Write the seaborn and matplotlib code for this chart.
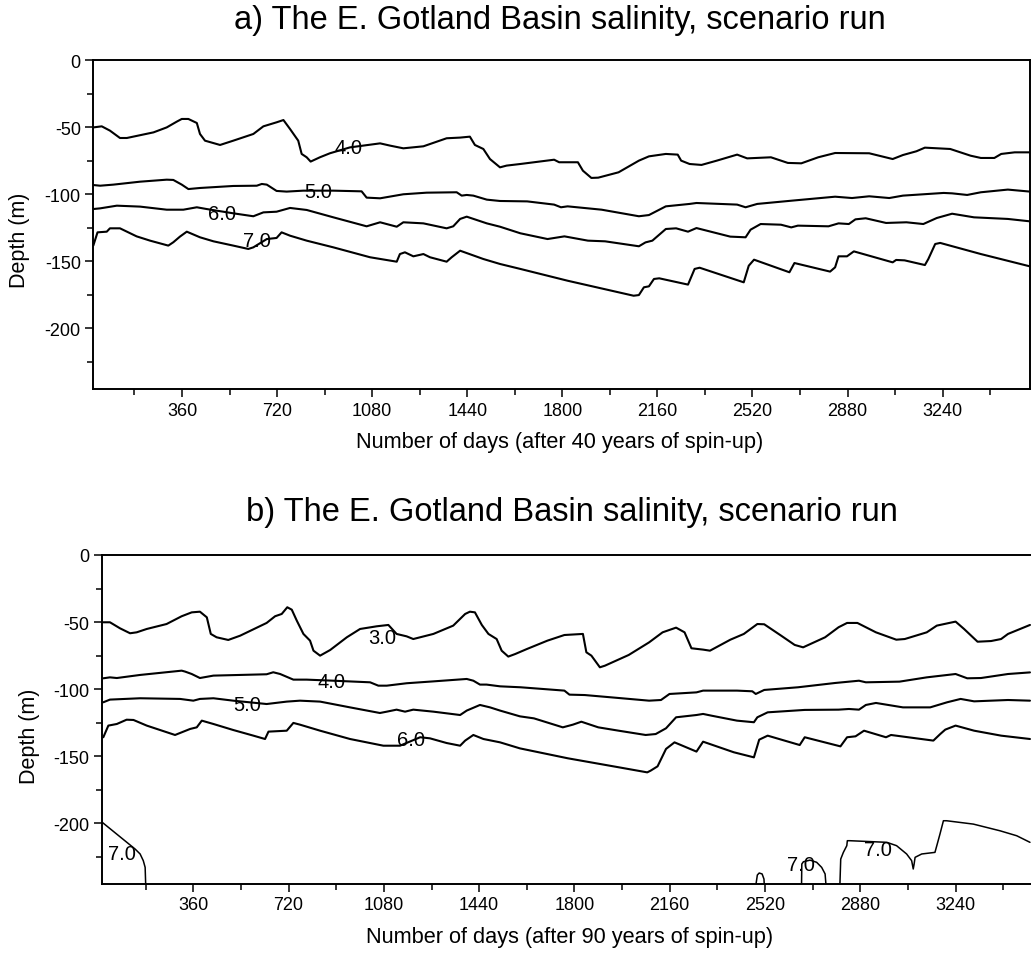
import matplotlib
matplotlib.use("Agg")
import matplotlib.pyplot as plt
from matplotlib.ticker import FixedLocator
import pandas as pd
import seaborn as sns

# ---------------------------------------------------------------------------
# Isohaline depths (m) against model day, panel a (after 40 years of spin-up)
# ---------------------------------------------------------------------------
a_s4_day = [24, 56, 87, 125, 151, 252, 302, 340, 359, 384, 416, 428, 447, 504, 554,
            630, 668, 718, 744, 769, 800, 813, 832, 847, 882, 920, 996, 1110, 1148, 1198,
            1274, 1362, 1413, 1450, 1469, 1501, 1526, 1564, 1589, 1641, 1769, 1788, 1859,
            1878, 1910, 1936, 2013, 2090, 2128, 2192, 2237, 2250, 2282, 2327, 2385, 2462,
            2500, 2590, 2654, 2705, 2769, 2833, 2962, 3051, 3090, 3141, 3173, 3269, 3346,
            3385, 3436, 3462, 3513, 3571]
a_s4_dep = [-50.3, -49.5, -52.7, -58.2, -58.2, -54.0, -50.3, -46.0, -44.0, -44.0, -47.0,
            -55.2, -60.2, -63.4, -60.2, -55.2, -49.5, -46.5, -44.8, -51.5, -60.2, -70.1,
            -72.6, -75.8, -72.6, -69.6, -65.2, -62.2, -63.9, -65.9, -64.4, -58.4, -57.9,
            -57.2, -63.4, -66.4, -73.9, -80.1, -78.8, -77.6, -74.4, -76.3, -76.3, -82.6,
            -88.0, -87.8, -83.8, -75.1, -71.9, -70.1, -70.6, -75.1, -77.6, -78.3, -75.1,
            -70.6, -73.4, -72.6, -76.8, -77.1, -72.6, -69.4, -69.6, -73.9, -70.9, -68.1,
            -65.4, -66.4, -71.4, -73.1, -73.1, -70.1, -68.9, -68.9]

a_s5_day = [24, 50, 100, 201, 302, 327, 359, 384, 428, 554, 643, 662, 681, 718, 756,
            819, 933, 1040, 1059, 1110, 1198, 1286, 1400, 1419, 1438, 1463, 1514, 1564,
            1667, 1769, 1795, 1820, 1949, 2090, 2128, 2192, 2282, 2308, 2462, 2494, 2538,
            2667, 2833, 2897, 2962, 3038, 3090, 3244, 3276, 3333, 3385, 3487, 3571]
a_s5_dep = [-93.3, -93.8, -93.0, -90.8, -89.3, -89.5, -93.0, -96.3, -95.5, -94.0, -93.8,
            -92.5, -93.0, -97.7, -98.2, -97.5, -97.5, -98.0, -102.7, -103.2, -100.2, -99.0,
            -98.7, -101.2, -100.7, -101.2, -104.2, -105.2, -105.5, -107.9, -109.9, -109.2,
            -111.7, -116.6, -115.7, -109.2, -107.4, -106.7, -107.9, -109.9, -107.4, -105.0,
            -102.0, -103.0, -101.7, -103.0, -101.2, -99.2, -99.5, -100.7, -98.7, -96.7,
            -98.2]

a_s6_day = [24, 50, 113, 201, 302, 365, 416, 453, 554, 630, 668, 718, 769, 832, 933,
            1059, 1110, 1173, 1198, 1274, 1362, 1387, 1413, 1438, 1514, 1564, 1641, 1744,
            1808, 1897, 1962, 2090, 2115, 2141, 2192, 2231, 2276, 2308, 2436, 2494, 2513,
            2551, 2628, 2667, 2692, 2808, 2846, 2885, 2910, 2949, 3026, 3103, 3167, 3218,
            3276, 3359, 3487, 3571]
a_s6_dep = [-111.2, -110.7, -108.7, -109.4, -111.7, -111.7, -109.9, -111.2, -114.4,
            -116.6, -113.7, -113.2, -110.4, -111.9, -117.4, -124.1, -121.1, -124.4, -121.1,
            -121.9, -125.6, -124.1, -118.6, -116.9, -121.9, -124.4, -129.3, -133.6, -131.6,
            -134.8, -135.3, -139.0, -136.1, -134.8, -126.1, -125.6, -128.1, -125.4, -131.8,
            -132.3, -126.6, -122.4, -122.9, -124.9, -123.6, -124.1, -121.9, -122.4, -118.9,
            -118.1, -121.6, -121.1, -122.4, -117.9, -114.7, -117.4, -118.6, -120.4]

a_s7_day = [24, 40, 75, 87, 125, 188, 239, 308, 327, 352, 378, 428, 479, 554, 611,
            630, 681, 718, 737, 769, 832, 933, 1072, 1173, 1185, 1204, 1236, 1274, 1299,
            1362, 1381, 1413, 1501, 1564, 1641, 1820, 2070, 2090, 2109, 2128, 2147, 2167,
            2276, 2301, 2320, 2487, 2506, 2526, 2660, 2679, 2814, 2833, 2846, 2878, 2904,
            3051, 3064, 3096, 3173, 3186, 3212, 3231, 3385, 3571]
a_s7_dep = [-138.5, -128.6, -128.1, -125.6, -125.6, -131.6, -134.8, -138.5, -136.0,
            -131.8, -128.1, -132.3, -135.3, -138.5, -141.0, -139.8, -133.6, -132.8, -128.6,
            -131.1, -134.8, -139.8, -147.2, -150.5, -144.8, -143.5, -146.5, -144.8, -147.2,
            -150.5, -147.2, -142.3, -148.5, -152.2, -155.9, -164.7, -175.9, -175.4, -169.6,
            -168.9, -163.4, -162.9, -167.6, -155.9, -155.0, -165.9, -153.5, -149.0, -158.4,
            -151.5, -157.9, -154.7, -146.5, -146.5, -142.8, -151.0, -149.2, -149.5, -153.0,
            -148.5, -137.3, -136.5, -144.8, -154.0]

# ---------------------------------------------------------------------------
# Panel b (after 90 years of spin-up)
# ---------------------------------------------------------------------------
b_s3_day = [20, 45, 83, 121, 146, 184, 259, 316, 354, 385, 411, 426, 448, 492, 537,
            637, 669, 694, 715, 732, 751, 776, 801, 814, 839, 877, 940, 990, 1053, 1097,
            1128, 1166, 1191, 1267, 1342, 1387, 1405, 1424, 1450, 1475, 1506, 1525, 1550,
            1576, 1621, 1698, 1762, 1832, 1845, 1864, 1896, 1915, 2005, 2082, 2133, 2184,
            2216, 2242, 2286, 2312, 2389, 2440, 2491, 2517, 2581, 2632, 2664, 2747, 2798,
            2830, 2869, 2939, 3016, 3048, 3131, 3169, 3240, 3272, 3323, 3374, 3412, 3438,
            3521]
b_s3_dep = [-50.2, -50.2, -54.7, -58.4, -57.7, -55.2, -51.5, -45.7, -42.8, -42.3, -46.5,
            -58.9, -61.4, -63.4, -60.2, -50.7, -45.7, -44.0, -39.0, -40.8, -49.0, -58.9,
            -63.9, -71.4, -75.1, -70.9, -61.4, -55.2, -53.2, -52.2, -58.9, -60.7, -62.7,
            -58.9, -52.7, -44.0, -42.3, -42.8, -52.2, -58.9, -62.7, -71.4, -75.8, -73.9,
            -70.1, -63.9, -59.7, -58.9, -72.6, -75.1, -83.8, -82.6, -74.6, -65.2, -57.7,
            -54.2, -57.7, -69.6, -70.6, -71.4, -63.2, -58.9, -51.5, -51.7, -60.2, -67.1,
            -68.9, -61.4, -53.9, -50.7, -50.7, -57.7, -63.2, -62.7, -57.7, -52.7, -49.7,
            -55.2, -64.7, -64.2, -62.7, -58.9, -52.2]

b_s4_day = [20, 45, 71, 159, 316, 329, 354, 385, 436, 537, 637, 662, 688, 738, 788,
            889, 1028, 1059, 1091, 1166, 1267, 1393, 1418, 1443, 1468, 1519, 1596, 1762,
            1781, 1839, 1967, 2082, 2127, 2159, 2261, 2286, 2414, 2472, 2485, 2517, 2645,
            2785, 2875, 2901, 3028, 3131, 3240, 3284, 3336, 3438, 3521]
b_s4_dep = [-92.0, -91.3, -91.8, -89.5, -86.3, -87.0, -88.8, -91.8, -90.0, -89.5, -89.0,
            -87.5, -88.8, -93.0, -93.0, -93.8, -95.0, -97.5, -97.5, -95.7, -94.3, -92.5,
            -93.8, -96.7, -96.7, -98.0, -98.7, -101.2, -104.2, -104.5, -106.7, -108.7,
            -108.2, -103.7, -102.5, -101.2, -101.2, -101.7, -103.7, -100.7, -98.7, -95.5,
            -93.8, -95.0, -94.5, -91.3, -88.8, -92.0, -91.8, -88.8, -87.6]

b_s5_day = [20, 45, 159, 310, 360, 385, 436, 511, 637, 713, 763, 839, 952, 1065, 1091,
            1128, 1160, 1191, 1267, 1368, 1393, 1443, 1481, 1519, 1594, 1647, 1756, 1794,
            1826, 1890, 1967, 2069, 2107, 2146, 2184, 2261, 2286, 2318, 2414, 2478, 2491,
            2530, 2670, 2798, 2837, 2875, 2901, 2939, 3041, 3144, 3208, 3259, 3310, 3438,
            3521]
b_s5_dep = [-109.9, -107.9, -106.9, -107.4, -108.7, -107.4, -106.9, -108.7, -111.2,
            -109.4, -108.7, -109.4, -113.7, -117.9, -116.9, -115.4, -116.9, -115.4, -116.9,
            -119.4, -116.1, -111.9, -113.7, -116.1, -120.4, -121.9, -128.6, -126.6, -124.4,
            -128.6, -131.1, -134.3, -133.6, -129.3, -121.1, -119.4, -118.6, -119.9, -123.6,
            -124.8, -121.1, -117.4, -115.6, -115.4, -114.9, -115.4, -111.9, -110.4, -113.7,
            -113.7, -109.9, -107.4, -109.2, -108.2, -108.7]

b_s6_day = [20, 39, 71, 108, 134, 184, 291, 348, 373, 392, 436, 511, 587, 631, 644,
            713, 738, 763, 839, 952, 1078, 1141, 1217, 1254, 1317, 1368, 1387, 1418, 1456,
            1519, 1594, 1775, 1967, 2075, 2088, 2114, 2146, 2178, 2261, 2286, 2402, 2478,
            2498, 2530, 2651, 2670, 2805, 2830, 2862, 2894, 2977, 2996, 3156, 3182, 3201,
            3240, 3310, 3412, 3521]
b_s6_dep = [-136.0, -127.3, -126.1, -122.9, -123.1, -127.3, -134.3, -129.8, -128.6,
            -123.6, -126.1, -130.6, -134.8, -137.3, -131.8, -131.1, -125.3, -126.6, -131.1,
            -137.3, -142.3, -142.3, -136.0, -136.8, -140.3, -142.3, -138.5, -134.3, -137.3,
            -139.8, -144.3, -151.7, -158.4, -162.2, -160.9, -157.7, -144.7, -139.8, -146.7,
            -139.3, -147.2, -151.0, -137.8, -134.8, -141.8, -136.0, -142.8, -136.0, -135.3,
            -131.1, -136.0, -134.3, -138.5, -133.6, -130.3, -127.3, -131.1, -134.8, -137.3]

# 7.0 isohaline: separate pockets of saline bottom water
b_s7a_day = [16, 140, 159, 171, 178, 180]
b_s7a_dep = [-199.5, -219.4, -223.1, -228.1, -233.1, -245.5]
b_s7b_day = [2486, 2491, 2498, 2509, 2516, 2517]
b_s7b_dep = [-245.5, -238.8, -237.3, -238.0, -241.8, -245.5]
b_s7c_day = [2658, 2659, 2665, 2690, 2715, 2734, 2747, 2750]
b_s7c_dep = [-245.5, -230.6, -228.9, -227.7, -229.3, -233.1, -238.0, -245.5]
b_s7d_day = [2803, 2806, 2816, 2829, 2831, 2841, 2980, 3017, 3055, 3074, 3080, 3083,
             3087, 3112, 3162, 3169, 3181, 3194, 3206, 3307, 3408, 3471, 3521]
b_s7d_dep = [-245.5, -226.9, -221.9, -216.9, -213.2, -213.2, -214.4, -216.9, -223.1,
             -228.1, -234.3, -231.0, -225.6, -223.1, -221.9, -216.9, -208.2, -198.3,
             -198.3, -200.8, -205.8, -209.5, -214.4]

# Contour labels: text, day, depth
a_labels = [("4.0", 990, -65.2), ("5.0", 874, -98.2), ("6.0", 510, -114.4),
            ("7.0", 643, -134.8)]
b_labels = [("3.0", 1074, -61.4), ("4.0", 883, -94.5), ("5.0", 562, -111.7),
            ("6.0", 1181, -137.8), ("7.0", 92, -223.1), ("7.0", 2657, -230.6),
            ("7.0", 2948, -219.4)]

day_ticks = [360, 720, 1080, 1440, 1800, 2160, 2520, 2880, 3240]
day_minor = [180, 540, 900, 1260, 1620, 1980, 2340, 2700, 3060, 3420]
depth_ticks = [0, -50, -100, -150, -200]
depth_minor = [-25, -75, -125, -175, -225]

title_a = "a) The E. Gotland Basin salinity, scenario run"
title_b = "b) The E. Gotland Basin salinity, scenario run"
xlabel_a = "Number of days (after 40 years of spin-up)"
xlabel_b = "Number of days (after 90 years of spin-up)"
ylabel = "Depth (m)"

# ---------------------------------------------------------------------------
sns.set_theme(style="ticks")
plt.rcParams["font.family"] = ["Liberation Sans", "DejaVu Sans"]
plt.rcParams["axes.unicode_minus"] = False
plt.rcParams["text.color"] = "black"
plt.rcParams["axes.labelcolor"] = "black"
plt.rcParams["xtick.color"] = "black"
plt.rcParams["ytick.color"] = "black"

W, H = 1031, 962
fig = plt.figure(figsize=(W / 100, H / 100), dpi=100)


def add_axes_px(left, top, width, height):
    return fig.add_axes([left / W, 1 - (top + height) / H, width / W, height / H])


def frame(lines):
    parts = [pd.DataFrame({"day": d, "depth": z, "line": name})
             for name, (d, z) in lines.items()]
    return pd.concat(parts, ignore_index=True)


ax_a = add_axes_px(93.3, 61, 936.7, 329)
ax_b = add_axes_px(102, 556, 936.7, 329)

df_a = frame({"4.0": (a_s4_day, a_s4_dep), "5.0": (a_s5_day, a_s5_dep),
              "6.0": (a_s6_day, a_s6_dep), "7.0": (a_s7_day, a_s7_dep)})
df_b = frame({"3.0": (b_s3_day, b_s3_dep), "4.0": (b_s4_day, b_s4_dep),
              "5.0": (b_s5_day, b_s5_dep), "6.0": (b_s6_day, b_s6_dep)})
df_b7 = frame({"7.0a": (b_s7a_day, b_s7a_dep), "7.0b": (b_s7b_day, b_s7b_dep),
               "7.0c": (b_s7c_day, b_s7c_dep), "7.0d": (b_s7d_day, b_s7d_dep)})

line_kw = dict(x="day", y="depth", units="line", estimator=None, sort=False,
               color="black", legend=False)
sns.lineplot(data=df_a, ax=ax_a, linewidth=1.5, **line_kw)
sns.lineplot(data=df_b, ax=ax_b, linewidth=1.5, **line_kw)
sns.lineplot(data=df_b7, ax=ax_b, linewidth=1.1, **line_kw)

for ax, labels in ((ax_a, a_labels), (ax_b, b_labels)):
    for text, d, z in labels:
        ax.text(d, z, text, ha="center", va="center", fontsize=14.5, color="black")

for ax, xlim in ((ax_a, (24, 3571)), (ax_b, (15, 3554))):
    ax.set_xlim(*xlim)
    ax.set_ylim(-245.5, 0)
    ax.xaxis.set_major_locator(FixedLocator(day_ticks))
    ax.xaxis.set_minor_locator(FixedLocator(day_minor))
    ax.yaxis.set_major_locator(FixedLocator(depth_ticks))
    ax.yaxis.set_minor_locator(FixedLocator(depth_minor))
    ax.tick_params(which="major", direction="out", length=6, width=1.1,
                   labelsize=13, pad=3, color="black", labelcolor="black")
    ax.tick_params(which="minor", direction="out", length=4.5, width=1.1, color="black")
    for sp in ax.spines.values():
        sp.set_linewidth(1.4)
        sp.set_color("black")
    ax.set_xlabel("")
    ax.set_ylabel("")
    ax.set_facecolor("white")

fig.text(560 / W, 1 - 20 / H, title_a, ha="center", va="center", fontsize=23.5)
fig.text(572 / W, 1 - 512 / H, title_b, ha="center", va="center", fontsize=23.5)
fig.text(560 / W, 1 - 443 / H, xlabel_a, ha="center", va="center", fontsize=15.7)
fig.text(570 / W, 1 - 938 / H, xlabel_b, ha="center", va="center", fontsize=15.7)
fig.text(20 / W, 1 - 240 / H, ylabel, ha="center", va="center", rotation=90, fontsize=15.5)
fig.text(29 / W, 1 - 736 / H, ylabel, ha="center", va="center", rotation=90, fontsize=15.5)

fig.savefig("out.png", dpi=100, facecolor="white")
